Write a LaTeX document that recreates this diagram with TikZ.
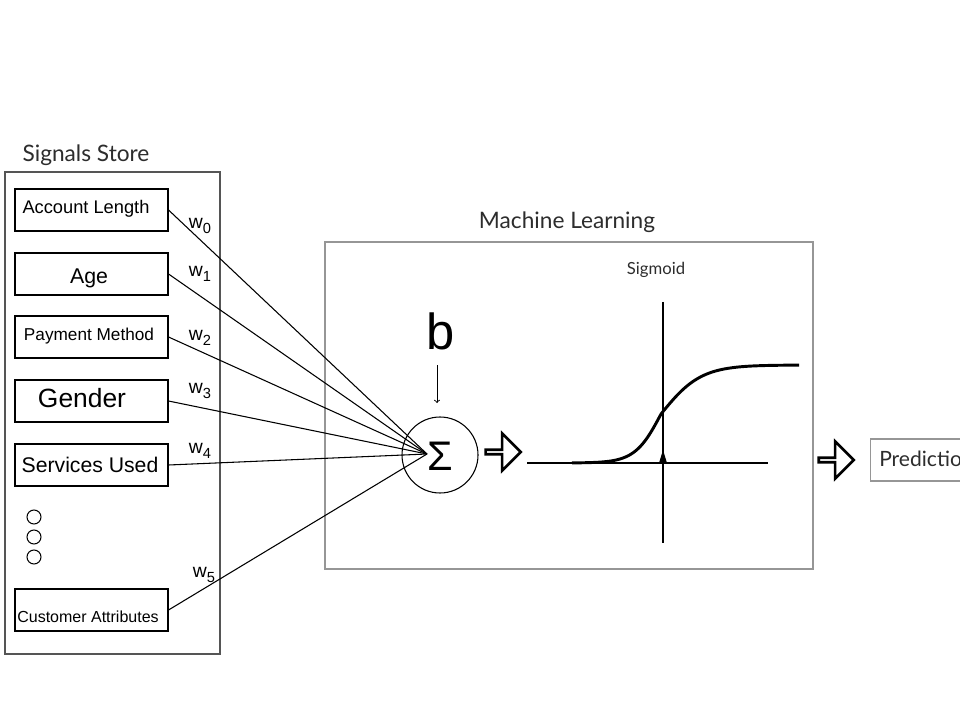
\documentclass[tikz,border=0pt]{standalone}
\usepackage{fontspec}
\setmainfont{Liberation Sans}
\newfontfamily\lato{Lato}
\usetikzlibrary{shapes.arrows}
\definecolor{framegray}{RGB}{85,85,85}
\definecolor{mlgray}{RGB}{150,150,150}
\definecolor{titlegray}{RGB}{45,45,45}
\newcommand{\wlabel}[1]{w\raisebox{-3.5pt}{\fontsize{11}{12}\selectfont #1}}
\tikzset{
  feature/.style={draw, line width=0.8pt, minimum width=114.75pt, minimum height=31.5pt, inner sep=0pt},
  featuretext/.style={inner sep=0pt},
  weight/.style={inner sep=0pt, font=\fontsize{14.5}{15}\selectfont},
  title/.style={inner sep=0pt, text=titlegray, font=\lato\fontsize{17}{19}\selectfont},
  blockarrow/.style={single arrow, draw, line width=2pt, minimum height=26.25pt, minimum width=27.75pt,
    single arrow head extend=7pt, inner sep=0pt},
  axis/.style={line width=1.8pt}
}
\begin{document}
\begin{tikzpicture}[x=0.75pt,y=-0.75pt]
\useasboundingbox (0,0) rectangle (960,720);
\clip (0,0) rectangle (960,720);
\fill[white] (0,0) rectangle (960,720);

% signals store
\node[title] (sstitle) at (86,155) {Signals Store};
\draw[framegray, line width=1pt] (5,172) rectangle (220,654);
\node[feature] (acc) at (91.5,210) {};
\node[feature] (age) at (91.5,274) {};
\node[feature] (pay) at (91.5,337) {};
\node[feature] (gen) at (91.5,401) {};
\node[feature] (srv) at (91.5,465) {};
\node[feature] (cust) at (91.5,610) {};
\node[featuretext, font=\fontsize{13.7}{14}\selectfont] (acctext) at (86,209) {Account Length};
\node[featuretext, font=\fontsize{16}{17}\selectfont] (agetext) at (89,278) {Age};
\node[featuretext, font=\fontsize{12.9}{14}\selectfont] (paytext) at (89,336) {Payment Method};
\node[featuretext, font=\fontsize{19.8}{20}\selectfont] (gentext) at (82,398) {Gender};
\node[featuretext, font=\fontsize{15.9}{16}\selectfont] (srvtext) at (90,465) {Services Used};
\node[featuretext, font=\fontsize{12}{13}\selectfont] (custtext) at (88,617) {Customer Attributes};
\foreach \y [count=\i] in {517,537,557}
  \draw[line width=0.8pt] (34,\y) circle[radius=7];

% machine learning
\node[title] (mltitle) at (567,222) {Machine Learning};
\draw[mlgray, line width=1pt] (325,242) rectangle (813,569);
\node[inner sep=0pt, font=\fontsize{38}{40}\selectfont] (b) at (441,331) {b};
\coordinate (btop) at (437,365);
\coordinate (bbot) at (437,403);
\draw[->, line width=0.7pt] (btop) -- (bbot);
\node[draw, circle, line width=0.8pt, minimum size=57pt, inner sep=0pt] (sum) at (440,455) {};
\node[inner sep=0pt, font=\fontsize{31}{31}\selectfont] (sigma) at (440,456) {Σ};
\coordinate (hub) at (427,454);

% weighted inputs
\foreach \n in {acc,age,pay,gen,srv,cust}
  \draw[line width=0.8pt] (\n.east) -- (hub);
\node[weight] (w0) at (200,226) {\wlabel{0}};
\node[weight] (w1) at (200,274) {\wlabel{1}};
\node[weight] (w2) at (200,338) {\wlabel{2}};
\node[weight] (w3) at (200,391) {\wlabel{3}};
\node[weight] (w4) at (200,451) {\wlabel{4}};
\node[weight] (w5) at (204,575) {\wlabel{5}};

% sigmoid plot
\node[inner sep=0pt, text=titlegray, font=\lato\fontsize{12.5}{14}\selectfont] (sigtitle) at (656,270) {Sigmoid};
\coordinate (xl) at (527,463);
\coordinate (xr) at (768,463);
\coordinate (yt) at (663,302);
\coordinate (yb) at (663,543);
\draw[axis] (xl) -- (xr);
\draw[axis] (yt) -- (yb);
\fill (659,463) -- (663,450) -- (667,463) -- cycle;
\draw[line width=2.2pt, domain=572:799, samples=100, smooth]
  plot (\x, {463 - 98/(1+exp(-(\x-661)/(\x<661 ? 13 : 20)))});

% arrows and output
\node[blockarrow] (arr1) at (502,452) {};
\node[blockarrow] (arr2) at (835,460) {};
\node[draw, mlgray, line width=1pt, anchor=west, minimum width=100pt, minimum height=31.5pt,
  inner sep=0pt] (pred) at (870,460) {};
\node[anchor=west, inner sep=0pt, text=titlegray, font=\lato\fontsize{15.8}{17}\selectfont]
  (predtext) at (879,459) {Prediction};
\end{tikzpicture}
\end{document}
